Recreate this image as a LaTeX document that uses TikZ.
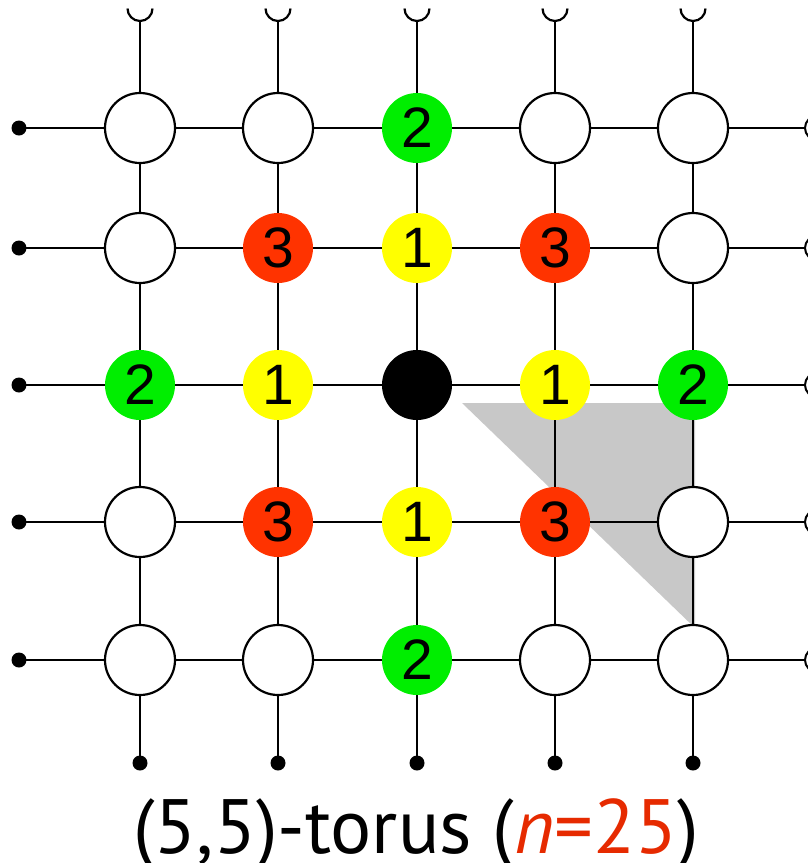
\documentclass[tikz,border=0pt]{standalone}
\usepackage{fontspec}
\setmainfont{Liberation Sans}
\newfontfamily\titlefont{PT Sans}
\definecolor{ngreen}{HTML}{00EE00}
\definecolor{nyellow}{HTML}{FFFF00}
\definecolor{nred}{HTML}{FF3300}
\definecolor{tred}{HTML}{E62A00}
\definecolor{tgray}{HTML}{C8C8C8}
\tikzset{
  vtx/.style={circle, minimum size=70pt, inner sep=0pt, font=\fontsize{57}{57}\selectfont},
  plain/.style={vtx, draw=black, line width=2.2pt, fill=white},
  gnode/.style={vtx, fill=ngreen},
  ynode/.style={vtx, fill=nyellow},
  rnode/.style={vtx, fill=nred},
  knode/.style={vtx, fill=black},
  edge/.style={line width=2.6pt, black},
  enddot/.style={circle, fill=black, minimum size=15pt, inner sep=0pt},
  endring/.style={circle, draw=black, line width=2pt, fill=white, minimum size=24pt, inner sep=0pt},
}
\begin{document}
\begin{tikzpicture}[x=1pt,y=-1pt]
\useasboundingbox (0,0) rectangle (808,863);
\clip (0,0) rectangle (808,863);
% shaded triangle
\fill[tgray] (462,403) -- (695,403) -- (695,628) -- cycle;
% end markers
\foreach \r/\y in {0/128,1/248,2/385,3/522,4/660}{
  \coordinate (L\r) at (19,\y);
  \coordinate (R\r) at (817,\y);
}
\foreach \c/\x in {0/140,1/278,2/417,3/555,4/693}{
  \coordinate (T\c) at (\x,21);
  \coordinate (B\c) at (\x,763);
}
% grid lines
\foreach \r/\y in {0/128,1/248,2/385,3/522,4/660}{
  \draw[edge] (19,\y) -- (817,\y);
}
\foreach \c/\x in {0/140,1/278,2/417,3/555,4/693}{
  \draw[edge] (\x,21) -- (\x,763);
  \draw[line width=2.2pt] (\x-12.5,8.5) arc[start angle=180, end angle=0, radius=12.5];
  \node[enddot] at (B\c) {};
}
\foreach \r in {0,...,4}{
  \node[enddot] at (L\r) {};
  \node[endring] at (R\r) {};
}
% vertices
\node[plain] (n00) at (140,128) {};
\node[plain] (n01) at (278,128) {};
\node[gnode] (n02) at (417,128) {2};
\node[plain] (n03) at (555,128) {};
\node[plain] (n04) at (693,128) {};
\node[plain] (n10) at (140,248) {};
\node[rnode] (n11) at (278,248) {3};
\node[ynode] (n12) at (417,248) {1};
\node[rnode] (n13) at (555,248) {3};
\node[plain] (n14) at (693,248) {};
\node[gnode] (n20) at (140,385) {2};
\node[ynode] (n21) at (278,385) {1};
\node[knode] (n22) at (417,385) {};
\node[ynode] (n23) at (555,385) {1};
\node[gnode] (n24) at (693,385) {2};
\node[plain] (n30) at (140,522) {};
\node[rnode] (n31) at (278,522) {3};
\node[ynode] (n32) at (417,522) {1};
\node[rnode] (n33) at (555,522) {3};
\node[plain] (n34) at (693,522) {};
\node[plain] (n40) at (140,660) {};
\node[plain] (n41) at (278,660) {};
\node[gnode] (n42) at (417,660) {2};
\node[plain] (n43) at (555,660) {};
\node[plain] (n44) at (693,660) {};
% title
\node[anchor=base, inner sep=0pt, font=\titlefont\fontsize{77}{77}\selectfont] (title) at (416,853)
  {(5,5)-torus (\textcolor{tred}{\textit{n}=25})};
\end{tikzpicture}
\end{document}
